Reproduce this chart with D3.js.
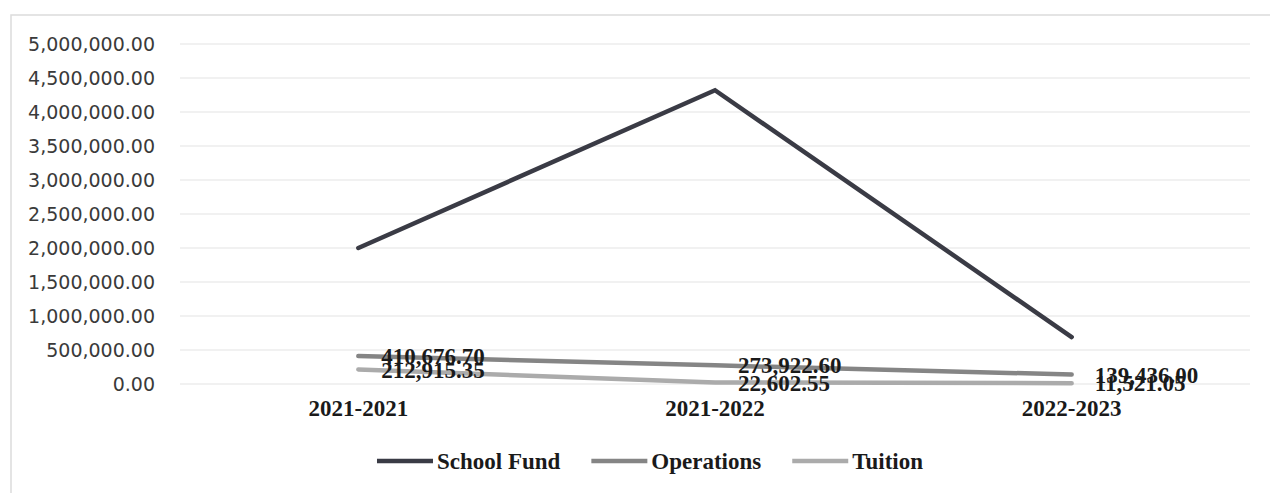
<!DOCTYPE html>
<html>
<head>
<meta charset="utf-8">
<script src="https://cdn.jsdelivr.net/npm/d3@7"></script>
<style>
  html, body { margin: 0; padding: 0; background: #fff; }
  svg { display: block; }
</style>
</head>
<body>
<svg id="chart" width="1270" height="493"></svg>
<script>
const categories = ["2021-2021", "2021-2022", "2022-2023"];
const seriesNames = ["School Fund", "Operations", "Tuition"];
const schoolFund = [2000000, 4320000, 690000];
const operations = [410676.70, 273922.60, 139436.00];
const tuition = [212915.35, 22602.55, 11521.05];
const yTicks = [0, 500000, 1000000, 1500000, 2000000, 2500000, 3000000, 3500000, 4000000, 4500000, 5000000];

const series = [
  { name: seriesNames[0], values: schoolFund, color: "#3a3b45", labels: false },
  { name: seriesNames[1], values: operations, color: "#858585", labels: true },
  { name: seriesNames[2], values: tuition, color: "#ababab", labels: true }
];

const svg = d3.select("#chart");
const margin = { left: 180, right: 1250, top: 44, bottom: 384 };

// chart frame
svg.append("path")
  .attr("d", "M11,493 L11,15 L1275,15")
  .attr("fill", "none")
  .attr("stroke", "#dcdcdc")
  .attr("stroke-width", 1.5);

const x = d3.scaleBand().domain(categories).range([margin.left, margin.right]).padding(0);
const y = d3.scaleLinear().domain([0, 5000000]).range([margin.bottom, margin.top]);

const fmt = d3.format(",.2f");

// gridlines
svg.append("g")
  .selectAll("line")
  .data(yTicks)
  .join("line")
  .attr("x1", margin.left)
  .attr("x2", margin.right)
  .attr("y1", d => y(d))
  .attr("y2", d => y(d))
  .attr("stroke", "#e3e3e3")
  .attr("stroke-width", 1.2);

// y axis
const yAxis = svg.append("g")
  .attr("transform", `translate(${margin.left - 25},0)`)
  .call(d3.axisLeft(y).tickValues(yTicks).tickFormat(fmt).tickSize(0).tickPadding(0));
yAxis.select(".domain").remove();
yAxis.selectAll("text")
  .attr("font-family", "DejaVu Sans, sans-serif")
  .attr("font-size", 19)
  .attr("fill", "#3a3a3a");

// x axis labels
const xAxis = svg.append("g")
  .attr("transform", `translate(0,${margin.bottom})`)
  .call(d3.axisBottom(x).tickSize(0).tickPadding(16));
xAxis.select(".domain").remove();
xAxis.selectAll("text")
  .attr("font-family", "Liberation Serif, Times New Roman, serif")
  .attr("font-weight", "bold")
  .attr("font-size", 23)
  .attr("fill", "#1a1a1a");

const cx = c => x(c) + x.bandwidth() / 2;
const line = d3.line().x((d, i) => cx(categories[i])).y(d => y(d));

// lines: draw lighter first
[...series].reverse().forEach(s => {
  svg.append("path")
    .datum(s.values)
    .attr("d", line)
    .attr("fill", "none")
    .attr("stroke", s.color)
    .attr("stroke-width", 4.5)
    .attr("stroke-linecap", "round")
    .attr("stroke-linejoin", "miter");
});

// data labels
series.filter(s => s.labels).forEach(s => {
  svg.append("g")
    .selectAll("text")
    .data(s.values)
    .join("text")
    .attr("x", (d, i) => cx(categories[i]) + 23)
    .attr("y", d => y(d))
    .attr("dy", "0.35em")
    .attr("font-family", "Liberation Serif, Times New Roman, serif")
    .attr("font-weight", "bold")
    .attr("font-size", 23)
    .attr("fill", "#1a1a1a")
    .text(d => fmt(d));
});

// legend
const legend = svg.append("g");
let lx = 0;
const items = [];
series.forEach((s, i) => {
  const g = legend.append("g");
  g.append("line")
    .attr("x1", lx).attr("x2", lx + 56)
    .attr("y1", 0).attr("y2", 0)
    .attr("stroke", s.color)
    .attr("stroke-width", 4.5);
  const t = g.append("text")
    .attr("x", lx + 60)
    .attr("y", 0)
    .attr("dy", "0.33em")
    .attr("font-family", "Liberation Serif, Times New Roman, serif")
    .attr("font-weight", "bold")
    .attr("font-size", 23)
    .attr("fill", "#1a1a1a")
    .text(s.name);
  const w = t.node().getComputedTextLength();
  lx += 60 + w + 31;
});
const totalW = lx - 31;
legend.attr("transform", `translate(${650 - totalW / 2},461)`);
</script>
</body>
</html>
